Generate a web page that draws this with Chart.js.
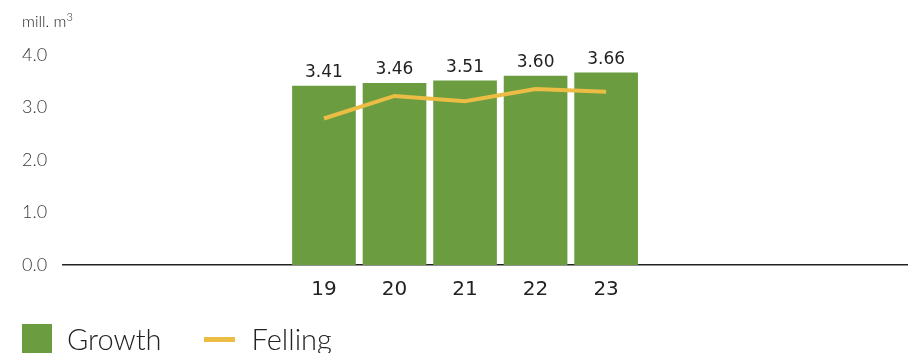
<!DOCTYPE html>
<html>
<head>
<meta charset="utf-8">
<script src="https://cdn.jsdelivr.net/npm/chart.js@4.4.0/dist/chart.umd.min.js"></script>
<style>
  html, body { margin: 0; padding: 0; background: #fff; }
  #wrap { position: relative; width: 908px; height: 353px; overflow: hidden; }
  #unit { position: absolute; left: 22px; top: 10px; font: 300 16px Lato, sans-serif; color: #222; }
  #legend { position: absolute; left: 22px; top: 321px; font: 300 29px Lato, sans-serif; color: #222; white-space: nowrap; }
  #legend span { display: inline-block; vertical-align: top; }
  .box { width: 30px; height: 31px; margin-top: 3px; }
  .ln { width: 31px; height: 5px; margin-top: 16px; }
</style>
</head>
<body>
<div id="wrap">
  <canvas id="myChart" width="908" height="353"></canvas>
  <div id="unit">mill. m<sup style="font-size:11px">3</sup></div>
  <div id="legend"></div>
</div>
<script>
const years = [19, 20, 21, 22, 23];
const growth = [3.41, 3.46, 3.51, 3.60, 3.66];
const felling = [2.79, 3.22, 3.12, 3.35, 3.30];
const yTicks = [0, 1, 2, 3, 4];

const green = "#6b9c40";
const yellow = "#ecbd45";

// value labels above the bars
const barLabels = {
    id: "barLabels",
    afterDatasetsDraw(chart) {
        const ctx = chart.ctx;
        const meta = chart.getDatasetMeta(1);
        ctx.save();
        ctx.font = "17px 'DejaVu Sans', sans-serif";
        ctx.fillStyle = "#222";
        ctx.textAlign = "center";
        ctx.textBaseline = "bottom";
        meta.data.forEach((bar, i) => {
            ctx.fillText(growth[i].toFixed(2), bar.x, bar.y - 5);
        });
        ctx.restore();
    }
};

const chart = new Chart("myChart", {
    type: "bar",
    data: {
        datasets: [
            {
                type: "line",
                label: "Felling",
                data: years.map((y, i) => ({x: y, y: felling[i]})),
                borderColor: yellow,
                backgroundColor: yellow,
                borderWidth: 4,
                pointRadius: 0,
                tension: 0,
                order: 0
            },
            {
                label: "Growth",
                data: years.map((y, i) => ({x: y, y: growth[i]})),
                backgroundColor: green,
                barThickness: 63,
                order: 1
            }
        ]
    },
    options: {
        responsive: false,
        animation: false,
        layout: {padding: {left: 22, top: 55, right: 0, bottom: 0}},
        plugins: {legend: {display: false}, tooltip: {enabled: false}},
        scales: {
            x: {
                type: "linear",
                min: 15.3,
                max: 27.28,
                offset: false,
                afterBuildTicks: s => { s.ticks = years.map(v => ({value: v})); },
                afterFit: s => { s.height = 88; },
                grid: {display: false, drawTicks: false},
                border: {display: true, color: "#222", width: 1.5},
                ticks: {
                    padding: 13,
                    color: "#222",
                    font: {family: "'DejaVu Sans', sans-serif", size: 20},
                    callback: v => String(v)
                }
            },
            y: {
                min: 0,
                max: 4,
                afterBuildTicks: s => { s.ticks = yTicks.map(v => ({value: v})); },
                afterFit: s => { s.width = 41; },
                grid: {display: false, drawTicks: false},
                border: {display: false},
                ticks: {
                    padding: 0,
                    crossAlign: "far",
                    color: "#3a3a3a",
                    font: {family: "Lato, sans-serif", size: 18, weight: 300},
                    callback: v => v.toFixed(1)
                }
            }
        }
    },
    plugins: [barLabels]
});

// html legend from the datasets
const leg = document.getElementById("legend");
const items = [chart.data.datasets[1], chart.data.datasets[0]];
items.forEach((ds, i) => {
    const mark = document.createElement("span");
    mark.className = ds.type === "line" ? "ln" : "box";
    mark.style.background = ds.type === "line" ? ds.borderColor : ds.backgroundColor;
    mark.style.marginLeft = i === 0 ? "0px" : "42px";
    const txt = document.createElement("span");
    txt.textContent = ds.label;
    txt.style.marginLeft = ds.type === "line" ? "17px" : "15px";
    leg.appendChild(mark);
    leg.appendChild(txt);
});
</script>
</body>
</html>
